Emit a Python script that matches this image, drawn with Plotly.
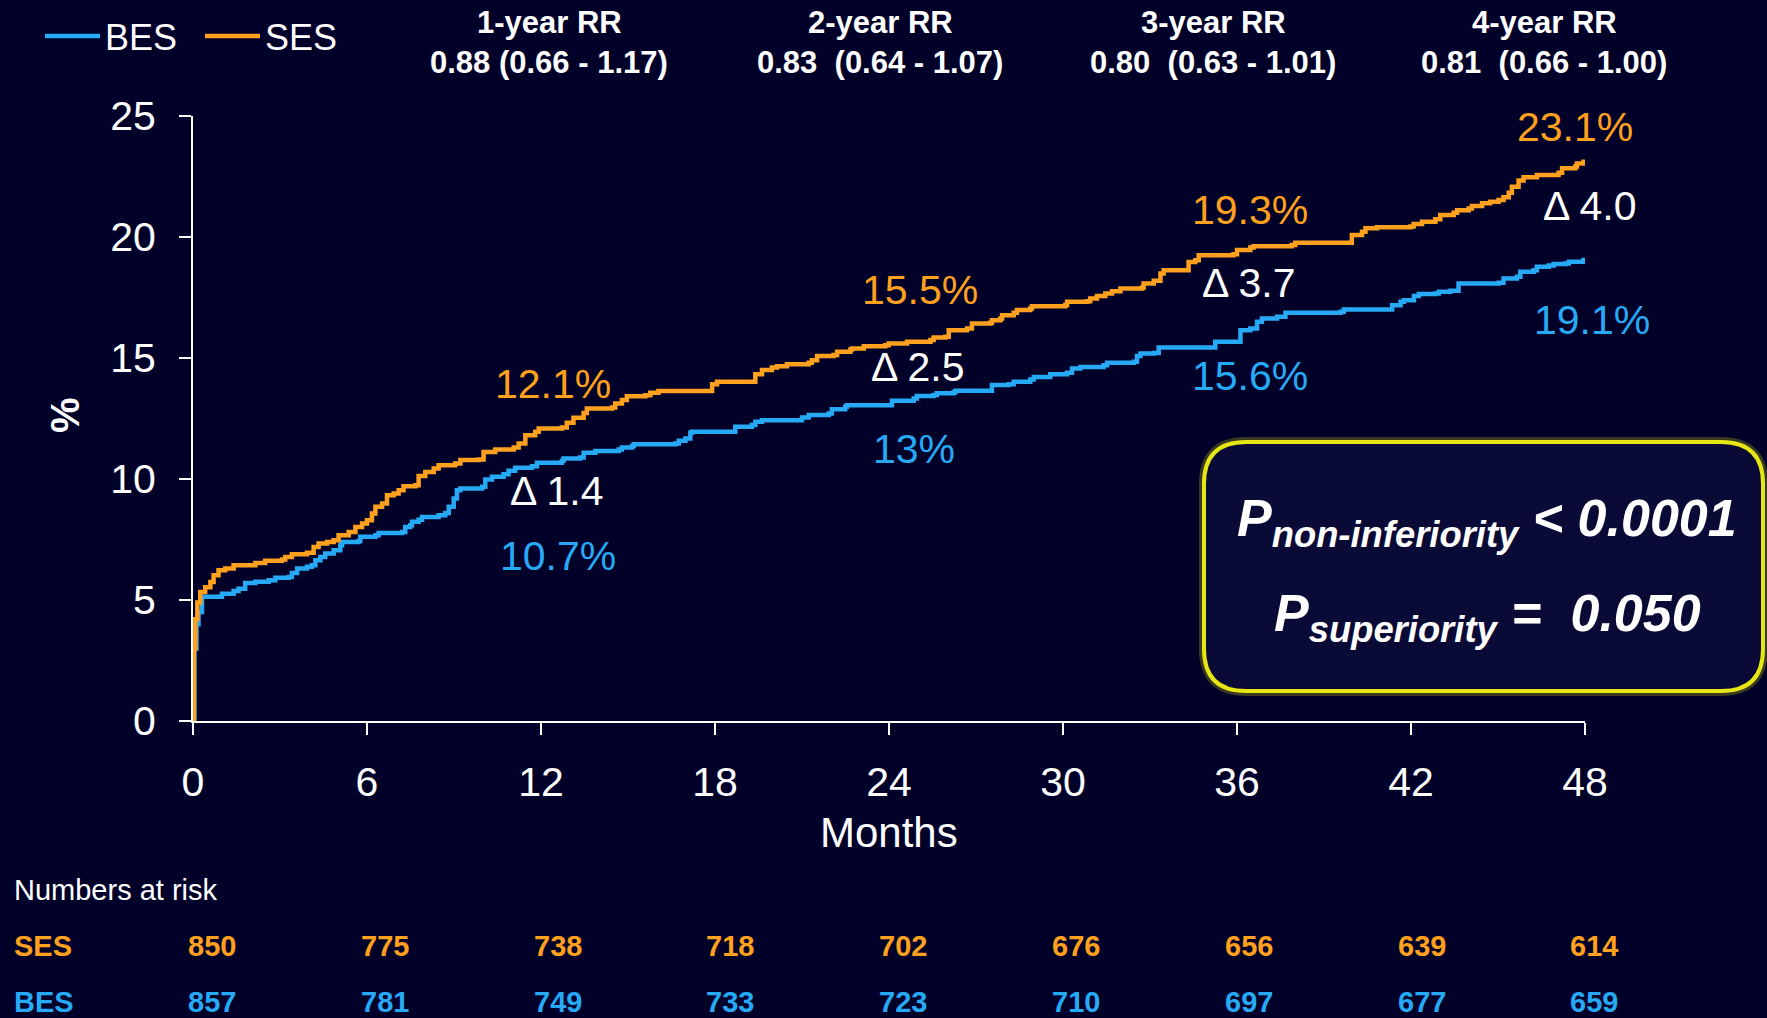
import plotly.graph_objects as go

# colours
bg = '#000028'
ses_color = '#FFA01E'
bes_color = '#27AAF5'
font_family = 'Arial, Liberation Sans, sans-serif'

# Kaplan-Meier style cumulative event curves (months, %)
ses_months = [0, 0.03, 0.08, 0.15, 0.25, 0.42, 0.60, 0.71, 0.88, 1.11, 1.40, 2.15, 2.49, 3.07, 3.18,
              3.41, 3.93, 4.16, 4.33, 4.62, 4.85, 5.02, 5.37, 5.60, 5.83, 6.0, 6.17, 6.29, 6.52, 6.69,
              6.92, 7.09, 7.26, 7.67, 7.78, 8.01, 8.30, 8.47, 9.04, 9.22, 9.85, 10.02, 10.42, 11.06,
              11.23, 11.46, 11.80, 11.92, 12.72, 12.89, 13.12, 13.47, 13.58, 14.45, 14.56, 14.79,
              14.96, 15.60, 15.77, 16.05, 17.90, 18.07, 19.39, 19.62, 19.96, 20.14, 20.48, 21.23,
              21.34, 21.52, 22.09, 22.21, 22.67, 22.72, 23.13, 23.87, 23.99, 24.62, 25.43, 25.54,
              25.94, 26.06, 26.69, 26.86, 27.49, 27.55, 27.84, 27.90, 28.30, 28.41, 28.87, 28.93,
              30.08, 30.14, 30.83, 30.94, 31.17, 31.46, 31.69, 31.98, 32.73, 32.78, 33.13, 33.36,
              33.47, 34.33, 34.56, 34.68, 35.88, 36.0, 36.46, 36.57, 37.89, 38.01, 39.96, 40.31,
              40.43, 40.83, 41.98, 42.09, 42.38, 42.84, 43.01, 43.47, 43.59, 43.99, 44.10, 44.45,
              44.73, 45.02, 45.19, 45.37, 45.48, 45.71, 45.88, 46.34, 47.09, 47.21, 47.67, 47.72,
              47.95, 48.0]
ses_pct = [0, 3.0, 4.2, 4.9, 5.33, 5.53, 5.74, 6.02, 6.23, 6.30, 6.44, 6.53, 6.62, 6.67, 6.78,
           6.89, 6.95, 7.19, 7.33, 7.40, 7.47, 7.68, 7.81, 8.02, 8.16, 8.30, 8.57, 8.85, 8.99, 9.33,
           9.40, 9.54, 9.70, 9.74, 10.12, 10.29, 10.43, 10.57, 10.64, 10.78, 10.81, 11.12, 11.22, 11.30,
           11.47, 11.81, 11.95, 12.09, 12.13, 12.32, 12.53, 12.73, 12.91, 12.95, 13.12, 13.26,
           13.42, 13.46, 13.56, 13.64, 13.92, 14.02, 14.33, 14.50, 14.61, 14.66, 14.74, 14.80,
           14.91, 15.08, 15.12, 15.26, 15.35, 15.39, 15.49, 15.53, 15.60, 15.67, 15.74, 15.85,
           15.88, 16.15, 16.22, 16.43, 16.46, 16.56, 16.63, 16.77, 16.87, 16.98, 17.05, 17.14,
           17.19, 17.32, 17.35, 17.46, 17.56, 17.67, 17.76, 17.87, 17.91, 18.08, 18.19, 18.49,
           18.63, 18.97, 19.04, 19.25, 19.29, 19.46, 19.57, 19.62, 19.67, 19.76, 20.08, 20.22,
           20.36, 20.40, 20.43, 20.54, 20.63, 20.73, 20.91, 21.00, 21.11, 21.18, 21.28, 21.39,
           21.46, 21.53, 21.64, 21.83, 22.08, 22.33, 22.47, 22.56, 22.66, 22.84, 22.91, 23.04,
           23.11, 23.11]

bes_months = [0, 0.05, 0.12, 0.19, 0.31, 1.0, 1.40, 1.57, 1.80, 2.15, 2.61, 2.84, 3.30, 3.41, 3.59,
              3.93, 4.10, 4.22, 4.39, 4.56, 4.85, 5.08, 5.14, 5.71, 5.77, 6.29, 6.40, 7.21, 7.32,
              7.49, 7.55, 7.78, 7.90, 8.47, 8.70, 8.82, 8.99, 9.10, 9.22, 9.97, 10.08, 10.31, 10.71,
              10.88, 11.11, 11.69, 11.86, 12.72, 12.78, 13.35, 13.47, 13.87, 14.68, 14.79, 15.14,
              15.20, 16.63, 16.75, 16.98, 17.15, 17.20, 18.70, 19.27, 19.39, 19.62, 21.0, 21.23,
              21.92, 22.03, 22.49, 22.55, 24.10, 24.85, 24.96, 25.54, 25.65, 26.23, 26.29, 27.55,
              28.13, 28.30, 28.87, 28.99, 29.56, 30.14, 30.31, 30.60, 31.40, 31.52, 32.44, 32.55,
              32.67, 33.13, 33.30, 35.25, 36.12, 36.46, 36.69, 36.86, 37.38, 37.67, 39.57, 39.68,
              41.35, 41.64, 41.75, 42.10, 42.27, 42.84, 42.96, 43.36, 43.64, 45.02, 45.19, 45.65,
              45.77, 46.23, 46.34, 46.75, 46.92, 47.32, 47.44, 47.95, 48.0]
bes_pct = [0, 3.0, 4.0, 4.5, 5.13, 5.26, 5.37, 5.47, 5.70, 5.75, 5.82, 5.92, 5.95, 6.12, 6.30,
           6.37, 6.44, 6.64, 6.78, 6.92, 7.06, 7.26, 7.40, 7.44, 7.61, 7.68, 7.77, 7.81, 8.02,
           8.09, 8.23, 8.32, 8.43, 8.50, 8.60, 8.85, 9.19, 9.54, 9.61, 9.68, 9.98, 10.09, 10.20,
           10.34, 10.46, 10.53, 10.67, 10.75, 10.85, 10.89, 11.08, 11.16, 11.22, 11.30, 11.36,
           11.44, 11.47, 11.58, 11.67, 11.91, 11.95, 12.16, 12.23, 12.37, 12.43, 12.54, 12.64,
           12.71, 12.88, 12.99, 13.05, 13.23, 13.33, 13.43, 13.47, 13.54, 13.58, 13.65, 13.88,
           13.92, 14.02, 14.11, 14.22, 14.33, 14.39, 14.57, 14.63, 14.70, 14.80, 14.84, 15.08,
           15.19, 15.21, 15.43, 15.67, 16.15, 16.22, 16.50, 16.63, 16.70, 16.87, 16.91, 17.00,
           17.18, 17.32, 17.39, 17.56, 17.64, 17.67, 17.74, 17.78, 18.08, 18.11, 18.29, 18.36,
           18.56, 18.63, 18.77, 18.82, 18.88, 18.91, 18.98, 19.05, 19.05]

# numbers at risk table
risk_months = [0, 6, 12, 18, 24, 30, 36, 42, 48]
ses_at_risk = [850, 775, 738, 718, 702, 676, 656, 639, 614]
bes_at_risk = [857, 781, 749, 733, 723, 710, 697, 677, 659]

# yearly relative risks
rr_titles = ['1-year RR', '2-year RR', '3-year RR', '4-year RR']
rr_values = ['0.88 (0.66 - 1.17)', '0.83\u00a0 (0.64 - 1.07)', '0.80\u00a0 (0.63 - 1.01)', '0.81\u00a0 (0.66 - 1.00)']

# milestone labels
ses_labels = ['12.1%', '15.5%', '19.3%', '23.1%']
bes_labels = ['10.7%', '13%', '15.6%', '19.1%']
delta_labels = ['\u0394 1.4', '\u0394 2.5', '\u0394 3.7', '\u0394 4.0']

# label placement (month, %, extra x shift in px)
ses_label_pos = [(12.42, 13.92, 0), (25.08, 17.8, 0), (36.46, 21.11, 0), (47.66, 24.54, 0)]
delta_label_pos = [(12.56, 9.50, 0), (25.0, 14.62, 0), (36.43, 18.09, 0), (48, 21.27, 5)]
bes_label_pos = [(12.6, 6.81, 0), (24.87, 11.23, 0), (36.46, 14.25, 0), (48, 16.56, 7)]

W, H = 1767, 1018
ML, MR, MT, MB = 193, 182, 116, 297
PW, PH = W - ML - MR, H - MT - MB


def px(x):
    return (x - ML) / PW


def py(y):
    return (H - MB - y) / PH


def label(x, y, text, size, color, xref='paper', yref='paper', **kw):
    d = dict(x=x, y=y, xref=xref, yref=yref, text=text, showarrow=False,
             xanchor='center', yanchor='middle', font=dict(size=size, color=color))
    d.update(kw)
    return d


def rounded_box(x0, y0, x1, y1, r):
    # pixel box -> paper path with quadratic corners
    return ('M {a},{b} L {c},{b} Q {x1},{b} {x1},{d} L {x1},{e} Q {x1},{f} {c},{f} '
            'L {a},{f} Q {x0},{f} {x0},{e} L {x0},{d} Q {x0},{b} {a},{b} Z').format(
        a=px(x0 + r), c=px(x1 - r), b=py(y0), d=py(y0 + r), e=py(y1 - r), f=py(y1),
        x0=px(x0), x1=px(x1))


fig = go.Figure()
fig.add_trace(go.Scatter(x=bes_months, y=bes_pct, name='BES', mode='lines', line_shape='hv',
                         line=dict(color=bes_color, width=4.5)))
fig.add_trace(go.Scatter(x=ses_months, y=ses_pct, name='SES', mode='lines', line_shape='hv',
                         line=dict(color=ses_color, width=4.5)))

ann = []
for lab, (mx, vy, xs) in zip(ses_labels, ses_label_pos):
    ann.append(label(mx, vy, lab, 41, ses_color, 'x', 'y', xshift=xs))
for lab, (mx, vy, xs) in zip(delta_labels, delta_label_pos):
    ann.append(label(mx, vy, lab, 41, 'white', 'x', 'y', xshift=xs))
for lab, (mx, vy, xs) in zip(bes_labels, bes_label_pos):
    ann.append(label(mx, vy, lab, 41, bes_color, 'x', 'y', xshift=xs))

# RR header
rr_centers = [549, 880, 1213, 1544]
for cx, t, v in zip(rr_centers, rr_titles, rr_values):
    ann.append(label(px(cx), py(23), '<b>%s</b>' % t, 31, 'white'))
    ann.append(label(px(cx), py(63), '<b>%s</b>' % v, 31, 'white'))

# axis titles
ann.append(label(0.5, py(832), 'Months', 42, 'white'))
ann.append(label(px(65), py(415), '<b>%</b>', 40, 'white', textangle=-90))

# numbers at risk
ann.append(label(px(12), py(890), 'Numbers at risk', 29, 'white', xanchor='left'))
ann.append(label(px(12), py(946), '<b>SES</b>', 29, ses_color, xanchor='left'))
ann.append(label(px(12), py(1002), '<b>BES</b>', 29, bes_color, xanchor='left'))
for m, s, b in zip(risk_months, ses_at_risk, bes_at_risk):
    shift = 19 - m * 0.2
    ann.append(label(m, py(946), '<b>%d</b>' % s, 29, ses_color, 'x', 'paper', xshift=shift))
    ann.append(label(m, py(1002), '<b>%d</b>' % b, 29, bes_color, 'x', 'paper', xshift=shift))

# p-value box text
ann.append(label(px(1487), py(522), '<b><i>P<sub>non-inferiority</sub> &lt; 0.0001</i></b>', 52, 'white'))
ann.append(label(px(1487), py(617), '<b><i>P<sub>superiority</sub> =\u00a0 0.050</i></b>', 52, 'white'))

# rounded box with a soft yellow glow
shapes = [
    dict(type='path', xref='paper', yref='paper', path=rounded_box(1204, 442, 1763, 691, 42),
         fillcolor='rgba(0,0,0,0)', line=dict(color='rgba(230,230,20,0.25)', width=10), layer='below'),
    dict(type='path', xref='paper', yref='paper', path=rounded_box(1204, 442, 1763, 691, 42),
         fillcolor='#0a0a36', line=dict(color='#e6e614', width=4), layer='below'),
]

fig.update_layout(
    width=W, height=H,
    margin=dict(l=ML, r=MR, t=MT, b=MB, autoexpand=False),
    paper_bgcolor=bg, plot_bgcolor=bg,
    font=dict(family=font_family, color='white'),
    showlegend=True,
    legend=dict(orientation='h', x=px(40), y=py(36), xanchor='left', yanchor='middle',
                font=dict(size=36, color='white'), itemwidth=55, bgcolor='rgba(0,0,0,0)',
                entrywidth=90),
    annotations=ann,
    shapes=shapes,
    xaxis=dict(range=[0, 48], tickvals=risk_months, showgrid=False, zeroline=False,
               showline=True, linecolor='white', linewidth=2, ticks='outside', ticklen=12,
               tickwidth=2, tickcolor='white', tickfont=dict(size=41, color='white'),
               ticklabelstandoff=12),
    yaxis=dict(range=[0, 25], dtick=5, showgrid=False, zeroline=False,
               showline=True, linecolor='white', linewidth=2, ticks='outside', ticklen=12,
               tickwidth=2, tickcolor='white', tickfont=dict(size=41, color='white'),
               ticklabelstandoff=15),
)

fig.write_html('out.html', config={'displayModeBar': False},
               post_script="document.body.style.margin='0';")
